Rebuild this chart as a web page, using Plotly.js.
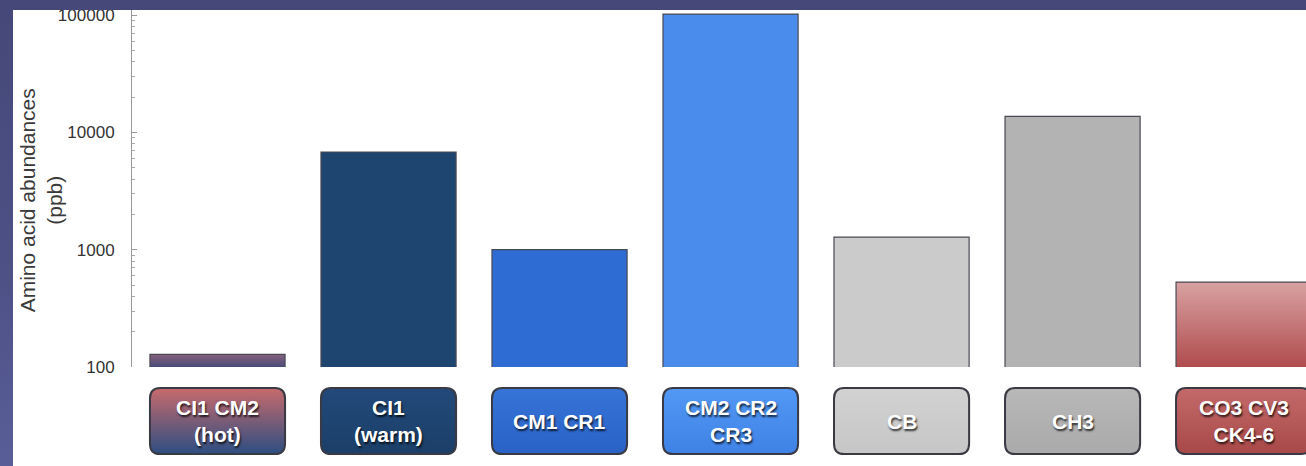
<!DOCTYPE html>
<html>
<head>
<meta charset="utf-8">
<script src="https://cdn.plot.ly/plotly-3.0.1.min.js"></script>
<style>
  html, body { margin: 0; padding: 0; width: 1306px; height: 466px; overflow: hidden; }
  body { background: linear-gradient(180deg, #454878 0%, #4d5186 60%, #5a5e98 100%); position: relative; }
  #topband { position: absolute; left: 0; top: 0; width: 1306px; height: 10px; background: #454878; z-index: 5; }
  #chart { position: absolute; left: 13px; top: 0px; width: 1293px; height: 466px; background: #fff; }
</style>
</head>
<body>
<div id="topband"></div>
<div id="chart"></div>
<script>
// Data
const categories = ["CI1 CM2 (hot)", "CI1 (warm)", "CM1 CR1", "CM2 CR2 CR3", "CB", "CH3", "CO3 CV3 CK4-6"];
const labelTexts = ["CI1 CM2<br>(hot)", "CI1<br>(warm)", "CM1 CR1", "CM2 CR2<br>CR3", "CB", "CH3", "CO3 CV3<br>CK4-6"];
const abundances = [128, 6800, 1000, 102000, 1280, 13700, 530];
const yTickVals = [100, 1000, 10000, 100000];
const yTickText = ["100", "1000", "10000", "100000"];
const yTitle = "Amino acid abundances<br>(ppb)";

// Styles
const barColors = ["#6e5276", "#1e4570", "#2e6bd2", "#4a8cec", "#cbcbcb", "#b3b3b3", "#c46c6e"];
const barGradients = [["#86607a", "#4a4c7c"], null, null, null, null, null, ["#d9a2a2", "#b04c4e"]];
const boxColors = ["#7c5470", "#1e4570", "#2f6ad0", "#4b8ff0", "#cccccc", "#b2b2b2", "#b95a5c"];
const boxGradients = [["#c86a6c", "#2c4e82"], ["#22497a", "#1b3f68"], ["#3674d8", "#2a62c6"],
                      ["#5298f4", "#3f82e6"], ["#d2d2d2", "#c6c6c6"], ["#b8b8b8", "#aaaaaa"], ["#c46a6a", "#a84848"]];

const barWidth = 0.79;
const half = barWidth / 2;
const boxTop = -0.059, boxBottom = -0.244;
const rx = 0.06, ry = 0.03;

const shapes = categories.map((c, i) => {
  const x0 = i - half, x1 = i + half;
  const p = `M ${x0 + rx} ${boxTop} L ${x1 - rx} ${boxTop} Q ${x1} ${boxTop} ${x1} ${boxTop - ry} ` +
            `L ${x1} ${boxBottom + ry} Q ${x1} ${boxBottom} ${x1 - rx} ${boxBottom} ` +
            `L ${x0 + rx} ${boxBottom} Q ${x0} ${boxBottom} ${x0} ${boxBottom + ry} ` +
            `L ${x0} ${boxTop - ry} Q ${x0} ${boxTop} ${x0 + rx} ${boxTop} Z`;
  return { type: 'path', xref: 'x', yref: 'paper', path: p, fillcolor: boxColors[i],
           line: { color: '#3a3a44', width: 2 }, layer: 'above' };
});

const annotations = categories.map((c, i) => ({
  x: i, y: (boxTop + boxBottom) / 2, xref: 'x', yref: 'paper', showarrow: false,
  text: labelTexts[i], align: 'center', yanchor: 'middle',
  font: { family: 'Arial, "Liberation Sans", sans-serif', size: 21, color: '#ffffff', weight: 700,
          shadow: '1px 2px 2px rgba(0,0,0,0.75)' }
}));
annotations.push({
  xref: 'paper', yref: 'paper', x: -0.078, y: 0.468, xanchor: 'center', yanchor: 'middle',
  textangle: -90, showarrow: false, text: yTitle, align: 'center',
  font: { size: 21, color: '#3a3a3a', family: 'Arial, "Liberation Sans", sans-serif' }
});

const trace = {
  type: 'bar',
  x: categories.map((c, i) => i),
  y: abundances,
  width: barWidth,
  marker: { color: barColors, line: { color: '#4a4a55', width: 1.2 } },
  hoverinfo: 'y'
};

const layout = {
  width: 1293, height: 466,
  margin: { l: 119, r: 0, t: 10, b: 99, pad: 0 },
  paper_bgcolor: '#ffffff', plot_bgcolor: '#ffffff',
  showlegend: false,
  font: { family: 'Arial, "Liberation Sans", sans-serif', color: '#333' },
  xaxis: { type: 'linear', range: [-0.5, 6.365], showticklabels: false, showgrid: false, zeroline: false,
           showline: false, ticks: '', fixedrange: true },
  yaxis: { type: 'log', range: [2, 5.043], tickvals: yTickVals, ticktext: yTickText,
           showgrid: false, zeroline: false, showline: true, linecolor: '#9a9a9a', linewidth: 1,
           ticks: 'inside', ticklen: 5, tickcolor: '#9a9a9a', tickwidth: 1,
           ticklabelstandoff: 13,
           tickfont: { size: 17, color: '#333', family: 'Arial, "Liberation Sans", sans-serif' },
           minor: { tickvals: [200,300,400,500,600,700,800,900,2000,3000,4000,5000,6000,7000,8000,9000,20000,30000,40000,50000,60000,70000,80000,90000],
                    ticks: 'inside', ticklen: 3, tickcolor: '#aaaaaa', showgrid: false } },
  shapes: shapes,
  annotations: annotations
};

Plotly.newPlot('chart', [trace], layout, { displayModeBar: false, staticPlot: true }).then(gd => {
  try {
    const NS = 'http://www.w3.org/2000/svg';
    const defs = gd._fullLayout._defs.node();
    function addGrad(id, stops, y1, y2) {
      const g = document.createElementNS(NS, 'linearGradient');
      g.setAttribute('id', id);
      if (y1 !== undefined) {
        g.setAttribute('gradientUnits', 'userSpaceOnUse');
        g.setAttribute('x1', '0'); g.setAttribute('x2', '0');
        g.setAttribute('y1', String(y1)); g.setAttribute('y2', String(y2));
      } else {
        g.setAttribute('x1', '0'); g.setAttribute('y1', '0');
        g.setAttribute('x2', '0'); g.setAttribute('y2', '1');
      }
      stops.forEach((c, k) => {
        const s = document.createElementNS(NS, 'stop');
        s.setAttribute('offset', (k / (stops.length - 1) * 100) + '%');
        s.setAttribute('stop-color', c);
        g.appendChild(s);
      });
      defs.appendChild(g);
    }
    const plotH = gd._fullLayout.yaxis._length;
    gd.querySelectorAll('.barlayer .point path').forEach((p, i) => {
      if (barGradients[i]) {
        const bb = p.getBBox();
        addGrad('bargrad' + i, barGradients[i], bb.y, plotH);
        p.style.fill = 'url(#bargrad' + i + ')';
      }
    });
    boxGradients.forEach((stops, i) => {
      const p = gd.querySelector('.shapelayer path[data-index="' + i + '"]');
      if (p && stops) { addGrad('boxgrad' + i, stops); p.style.fill = 'url(#boxgrad' + i + ')'; }
    });
  } catch (e) { /* keep solid fills */ }
});
</script>
</body>
</html>
